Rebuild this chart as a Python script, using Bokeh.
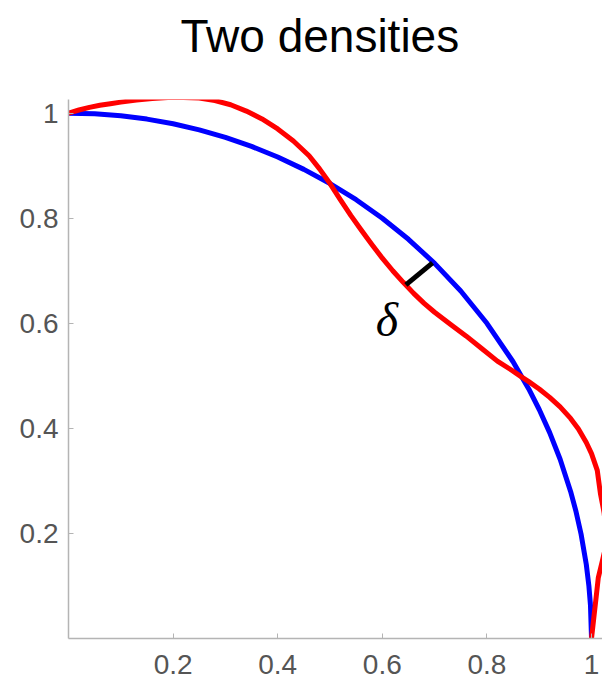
from bokeh.plotting import figure
from bokeh.models import FixedTicker, CustomJSTickFormatter, Range1d, Label, Title
from bokeh.embed import file_html
from bokeh.resources import INLINE

# Blue curve (quarter circle)
blue_x = [0, 0.05, 0.1, 0.15, 0.2, 0.25, 0.3, 0.35, 0.4, 0.45, 0.5, 0.55, 0.6, 0.65, 0.7, 0.75, 0.8, 0.85,
          0.88, 0.9, 0.92, 0.94, 0.96, 0.97, 0.98, 0.99, 0.995, 0.998, 1.0]
blue_y = [1.0, 0.9987, 0.995, 0.9887, 0.9798, 0.9682, 0.9539, 0.9367, 0.9165, 0.8930, 0.8660, 0.8352, 0.8,
          0.7599, 0.7141, 0.6614, 0.6, 0.5268, 0.475, 0.4359, 0.3919, 0.3412, 0.28, 0.2431, 0.199, 0.1411,
          0.0999, 0.0632, 0.0]

# Red curve
red_x = [0, 0.02, 0.04, 0.06, 0.08, 0.10, 0.13, 0.16, 0.19, 0.22, 0.25, 0.28, 0.31, 0.34, 0.37, 0.40, 0.43,
         0.46, 0.48, 0.50, 0.52, 0.54, 0.56, 0.58, 0.60, 0.62, 0.64, 0.66, 0.68, 0.70, 0.73, 0.76, 0.79, 0.82,
         0.85, 0.866, 0.88, 0.90, 0.92, 0.94, 0.96, 0.975, 0.99, 1.0, 1.011, 1.017, 1.024, 1.028, 1.026,
         1.021, 1.013, 1.009, 1.005, 1.0]
red_y = [1.0, 1.006, 1.011, 1.015, 1.018, 1.021, 1.025, 1.028, 1.030, 1.030, 1.029, 1.024, 1.016, 1.004,
         0.989, 0.970, 0.947, 0.919, 0.894, 0.866, 0.835, 0.805, 0.777, 0.750, 0.724, 0.700, 0.678, 0.657,
         0.638, 0.621, 0.598, 0.576, 0.552, 0.528, 0.509, 0.498, 0.489, 0.475, 0.459, 0.441, 0.419, 0.399,
         0.373, 0.352, 0.32, 0.276, 0.24, 0.20, 0.17, 0.149, 0.116, 0.08, 0.045, 0.0]

# Delta segment
delta_x = [0.645, 0.696]
delta_y = [0.673, 0.715]
delta_label_x = 0.609
delta_label_y = 0.608

ticks = [0.2, 0.4, 0.6, 0.8, 1.0]
title_text = "Two densities"

p = figure(width=602, height=683, output_backend="svg", toolbar_location=None, title=None,
           x_range=Range1d(0, 1.021), y_range=Range1d(0, 1.026),
           min_border_left=68, min_border_right=0, min_border_top=0, min_border_bottom=45)

# spacer between title and frame (nearest the frame), then the visible title above it
p.add_layout(Title(text=" ", text_font_size="10px", standoff=18), "above")
p.add_layout(Title(text=title_text, align="left", offset=112, standoff=14,
                   text_font="Liberation Sans", text_font_size="46px",
                   text_font_style="normal", text_color="#000000"), "above")

p.outline_line_color = None
p.xgrid.visible = False
p.ygrid.visible = False

for ax in (p.xaxis[0], p.yaxis[0]):
    ax.ticker = FixedTicker(ticks=ticks)
    ax.formatter = CustomJSTickFormatter(code="return String(Math.round(tick*10)/10);")
    ax.axis_line_color = "#b4b4b4"
    ax.axis_line_width = 1.5
    ax.major_tick_line_color = "#b4b4b4"
    ax.major_tick_in = 5
    ax.major_tick_out = 0
    ax.minor_tick_line_color = None
    ax.major_label_text_font = "Liberation Sans"
    ax.major_label_text_font_size = "28px"
    ax.major_label_text_color = "#555555"
p.xaxis[0].major_label_standoff = 16
p.yaxis[0].major_label_standoff = 10

p.line(blue_x, blue_y, line_color="#0000ff", line_width=5, line_join="round", line_cap="round")
p.line(red_x, red_y, line_color="#ff0000", line_width=5, line_join="round", line_cap="round")
p.line(delta_x, delta_y, line_color="#000000", line_width=5)

p.add_layout(Label(x=delta_label_x, y=delta_label_y, text="δ", text_font="Liberation Serif",
                   text_font_style="italic", text_font_size="48px", text_align="center",
                   text_baseline="middle", text_color="#000000"))

open("out.html", "w").write(file_html(p, INLINE))
